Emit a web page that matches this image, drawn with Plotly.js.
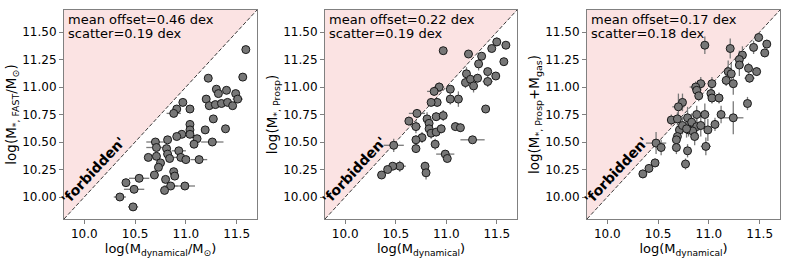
<!DOCTYPE html>
<html><head><meta charset="utf-8">
<script src="https://cdn.plot.ly/plotly-3.0.1.min.js"></script>
<style>html,body{margin:0;padding:0;background:#fff}#chart{width:789px;height:263px}</style>
</head><body><div id="chart"></div>
<script>
// axis limits (shared by x and y in every panel)
const AX_RANGE = [9.8, 11.7];

// Panel 1: FAST stellar mass vs dynamical mass
const p1_x = [11.59,11.56,11.22,11.30,11.40,11.32,11.49,11.20,11.51,11.23,11.29,11.35,11.41,11.46,10.97,10.91,11.04,10.88,11.27,11.04,11.04,11.19,11.39,10.96,11.04,10.91,11.11,10.82,10.70,11.26,11.08,10.71,10.81,10.93,10.82,10.63,10.71,10.84,10.95,11.00,11.13,10.75,10.73,10.88,10.69,10.89,10.54,10.80,10.41,10.85,10.99,10.49,10.79,10.35,10.48];
const p1_y = [11.34,11.09,11.08,10.98,10.97,10.94,10.94,10.89,10.89,10.83,10.84,10.85,10.86,10.83,10.86,10.80,10.80,10.76,10.71,10.66,10.61,10.61,10.62,10.57,10.57,10.55,10.53,10.52,10.50,10.50,10.48,10.45,10.44,10.42,10.39,10.36,10.37,10.35,10.36,10.34,10.34,10.31,10.27,10.23,10.20,10.19,10.17,10.16,10.13,10.10,10.10,10.07,10.06,10.00,9.91];
const p1_xerr = [0.02,0.03,0.02,0.02,0.02,0.02,0.02,0.02,0.05,0.03,0.03,0.03,0.03,0.03,0.03,0.03,0.03,0.07,0.02,0.02,0.03,0.02,0.02,0.03,0.03,0.03,0.03,0.03,0.09,0.11,0.03,0.10,0.04,0.07,0.04,0.03,0.03,0.04,0.07,0.03,0.08,0.03,0.03,0.03,0.03,0.03,0.10,0.03,0.03,0.07,0.10,0.10,0.03,0.06,0.05];

// Panel 2: Prospector stellar mass vs dynamical mass
const p2_x = [10.97,11.22,11.50,11.59,11.45,11.35,11.32,11.57,11.20,11.41,11.49,11.19,11.24,11.31,11.27,11.41,10.93,10.88,11.04,11.04,11.12,10.91,10.85,11.39,10.71,10.63,10.81,10.90,10.97,10.83,10.70,10.83,10.85,10.90,10.95,11.09,11.14,10.76,10.70,11.26,10.70,10.89,10.48,10.99,11.01,10.54,10.47,10.42,10.36,10.79,10.80];
const p2_y = [11.33,11.30,11.41,11.38,11.35,11.28,11.21,11.23,11.12,11.14,11.10,11.04,11.07,11.08,11.01,11.05,11.00,10.96,10.98,10.89,10.89,10.86,10.86,10.80,10.76,10.69,10.71,10.73,10.74,10.67,10.64,10.62,10.58,10.59,10.62,10.64,10.63,10.54,10.52,10.52,10.44,10.48,10.47,10.39,10.35,10.28,10.28,10.25,10.20,10.28,10.22];
const p2_xerr = [0.02,0.02,0.04,0.03,0.03,0.03,0.03,0.03,0.03,0.03,0.03,0.03,0.03,0.04,0.03,0.05,0.05,0.07,0.03,0.03,0.03,0.03,0.03,0.03,0.08,0.03,0.03,0.03,0.03,0.03,0.05,0.03,0.03,0.03,0.03,0.03,0.03,0.03,0.03,0.12,0.03,0.03,0.10,0.09,0.03,0.06,0.03,0.03,0.03,0.03,0.03];
const p2_yerr = [0.02,0.02,0.04,0.03,0.03,0.03,0.06,0.03,0.06,0.03,0.03,0.05,0.03,0.04,0.06,0.05,0.04,0.04,0.03,0.05,0.07,0.04,0.03,0.03,0.04,0.04,0.06,0.04,0.05,0.04,0.06,0.05,0.05,0.04,0.04,0.04,0.04,0.05,0.04,0.03,0.04,0.05,0.06,0.03,0.03,0.05,0.03,0.03,0.03,0.04,0.06];

// Panel 3: Prospector stellar + gas mass vs dynamical mass
const p3_x = [10.96,11.21,11.49,11.57,11.44,11.55,11.33,11.30,11.30,11.39,11.19,11.22,11.47,11.40,11.17,11.24,10.92,10.87,10.88,11.03,11.02,11.03,11.10,10.90,10.74,10.70,11.38,10.63,10.69,11.12,11.24,11.06,10.79,10.88,10.96,10.83,10.71,10.74,10.88,10.92,10.99,10.80,10.84,10.69,10.68,10.86,10.78,10.48,10.53,10.68,10.97,10.79,10.47,10.77,10.41,10.35];
const p3_y = [11.38,11.35,11.45,11.39,11.36,11.31,11.29,11.25,11.20,11.17,11.14,11.12,11.14,11.08,11.06,11.03,11.03,11.00,10.97,11.03,10.94,10.90,10.90,10.92,10.86,10.82,10.85,10.70,10.71,10.75,10.72,10.66,10.72,10.75,10.75,10.68,10.61,10.65,10.64,10.65,10.61,10.61,10.60,10.55,10.52,10.55,10.62,10.49,10.45,10.45,10.46,10.42,10.31,10.30,10.26,10.21];
const p3_xerr = [0.03,0.03,0.03,0.03,0.03,0.03,0.03,0.03,0.03,0.03,0.03,0.03,0.04,0.05,0.03,0.03,0.05,0.06,0.03,0.03,0.03,0.03,0.03,0.03,0.03,0.06,0.03,0.03,0.03,0.03,0.10,0.03,0.03,0.03,0.03,0.03,0.03,0.03,0.03,0.03,0.03,0.03,0.03,0.03,0.03,0.03,0.03,0.10,0.03,0.03,0.05,0.03,0.03,0.03,0.03,0.03];
const p3_yerr = [0.08,0.09,0.04,0.04,0.06,0.04,0.08,0.08,0.10,0.05,0.10,0.10,0.04,0.04,0.05,0.10,0.06,0.05,0.05,0.06,0.06,0.05,0.05,0.05,0.08,0.12,0.06,0.05,0.06,0.08,0.15,0.06,0.10,0.08,0.10,0.08,0.08,0.08,0.10,0.10,0.10,0.06,0.08,0.06,0.08,0.08,0.08,0.10,0.07,0.06,0.08,0.06,0.04,0.05,0.04,0.04];

const titlesY = ['log(M<sub>*, FAST</sub>/M<sub>⊙</sub>)','log(M<sub>*, Prosp</sub>)','log(M<sub>*, Prosp</sub>+M<sub>gas</sub>)'];
const titlesX = ['log(M<sub>dynamical</sub>/M<sub>⊙</sub>)','log(M<sub>dynamical</sub>)','log(M<sub>dynamical</sub>)'];
const offsets = ['mean offset=0.46 dex','mean offset=0.22 dex','mean offset=0.17 dex'];
const scatters = ['scatter=0.19 dex','scatter=0.19 dex','scatter=0.18 dex'];
const forbiddenPos = [10.09, 10.25];

const W = 789, H = 263;
const pxX = [[64,257],[325,517],[587,780]];
const pxY = [10,219];

const panels = [
  {x:p1_x, y:p1_y, xe:p1_xerr, ye:null},
  {x:p2_x, y:p2_y, xe:p2_xerr, ye:p2_yerr},
  {x:p3_x, y:p3_y, xe:p3_xerr, ye:p3_yerr}
];

const traces = [], annotations = [];
const layout = {
  width: W, height: H, margin:{l:0,r:0,t:0,b:0},
  paper_bgcolor:'#fff', plot_bgcolor:'#fff', showlegend:false,
  font:{family:'DejaVu Sans', size:12, color:'#000'}
};
const lo = AX_RANGE[0], hi = AX_RANGE[1];
const ph = pxY[1]-pxY[0];
panels.forEach((p,i)=>{
  const n = i===0 ? '' : String(i+1);
  const xa = 'x'+n, ya = 'y'+n;
  // forbidden region (above the one-to-one line)
  traces.push({type:'scatter', mode:'lines', xaxis:xa, yaxis:ya,
    x:[lo, lo, hi, lo], y:[lo, hi, hi, lo], fill:'toself',
    fillcolor:'#fbe3e3', line:{width:0}, hoverinfo:'skip'});
  // one-to-one line
  traces.push({type:'scatter', mode:'lines', xaxis:xa, yaxis:ya,
    x:[lo, hi], y:[lo, hi], line:{color:'#3a3a3a', width:1, dash:'4px,2px'}, hoverinfo:'skip'});
  const tr = {type:'scatter', mode:'markers', xaxis:xa, yaxis:ya, x:p.x, y:p.y,
    marker:{size:8, color:'#777777', line:{color:'#1a1a1a', width:1}},
    error_x:{type:'data', array:p.xe, visible:true, color:'#7a7a7a', thickness:1.3, width:0}};
  if (p.ye) tr.error_y = {type:'data', array:p.ye, visible:true, color:'#7a7a7a', thickness:1.3, width:0};
  traces.push(tr);
  const axCommon = {range:AX_RANGE.slice(), showgrid:false, zeroline:false, showline:true, mirror:true,
    linecolor:'#808080', linewidth:1, ticks:'outside', ticklen:4, tickcolor:'#808080', tickwidth:1,
    tickfont:{family:'DejaVu Sans', size:12, color:'#000'}, automargin:false, fixedrange:true};
  layout['xaxis'+n] = Object.assign({}, axCommon, {
    domain:[pxX[i][0]/W, pxX[i][1]/W], anchor:ya, tick0:10, dtick:0.5, tickformat:'.1f',
    title:{text:titlesX[i], font:{size:13}, standoff:0}});
  layout['yaxis'+n] = Object.assign({}, axCommon, {
    domain:[1-pxY[1]/H, 1-pxY[0]/H], anchor:xa, tick0:10, dtick:0.25, tickformat:'.2f',
    title:{text:titlesY[i], font:{size:13.5}, standoff:2}});
  annotations.push({xref:xa+' domain', yref:ya+' domain', x:0.015, y:1-(19-pxY[0])/ph, xanchor:'left', yanchor:'middle',
    text:offsets[i], showarrow:false, borderpad:0, font:{size:13, color:'#000'}});
  annotations.push({xref:xa+' domain', yref:ya+' domain', x:0.015, y:1-(33-pxY[0])/ph, xanchor:'left', yanchor:'middle',
    text:scatters[i], showarrow:false, borderpad:0, font:{size:13, color:'#000'}});
  annotations.push({xref:xa, yref:ya, x:forbiddenPos[0], y:forbiddenPos[1], text:"<b>'forbidden'</b>",
    textangle:-47, showarrow:false, font:{size:14, color:'#000'}});
});
layout.annotations = annotations;
Plotly.newPlot('chart', traces, layout, {staticPlot:true, displayModeBar:false});
</script>
</body></html>
